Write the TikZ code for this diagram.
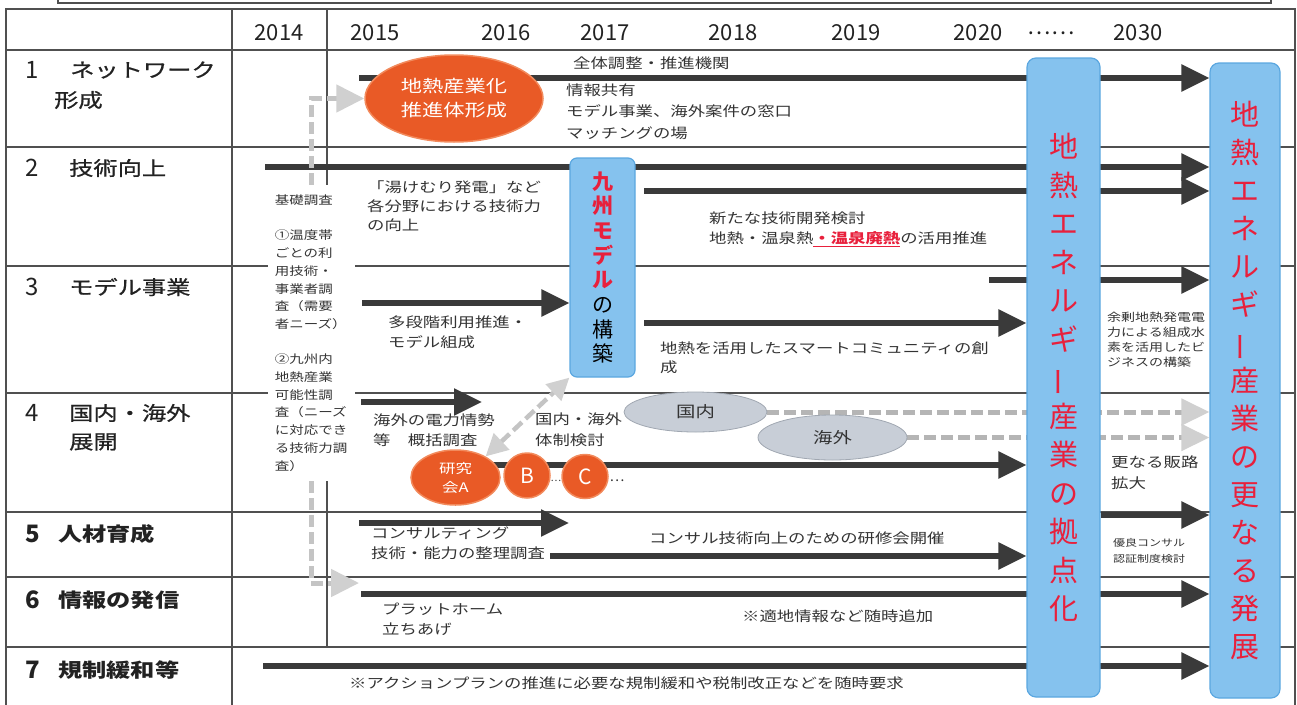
\documentclass[tikz,border=0pt]{standalone}
\usepackage{fontspec}
\usepackage{graphicx}
\usetikzlibrary{arrows.meta,shapes.geometric,backgrounds}
\newfontfamily\jp[FakeStretch=1.25]{Noto Sans CJK JP}
\newfontfamily\jpm[FakeStretch=1.25,FakeBold=0.8]{Noto Sans CJK JP}
\newfontfamily\jpn{Noto Sans CJK JP}
\definecolor{arr}{HTML}{3A3A3A}
\definecolor{gridc}{HTML}{505050}
\definecolor{txtc}{HTML}{333333}
\definecolor{labc}{HTML}{222222}
\definecolor{kred}{HTML}{E8203C}
\definecolor{bluef}{HTML}{85C2EE}
\definecolor{blued}{HTML}{5BA7E0}
\definecolor{orf}{HTML}{E95A26}
\definecolor{ord}{HTML}{F28A5C}
\definecolor{grf}{HTML}{C8CED7}
\definecolor{grd}{HTML}{A0A7B1}
\definecolor{gline}{HTML}{C4C4C4}
\definecolor{glinetwo}{HTML}{B5B5B5}
\definecolor{gtip}{HTML}{D0D0D0}
\newcommand\vbarj{\rotatebox[origin=c]{90}{ー}}
\newcommand\kr[1]{\textcolor{kred}{\bfseries #1}}
\begin{document}
\begin{tikzpicture}[x=1pt,y=-1pt,
  bar/.style={line width=5.5pt, draw=arr, -{Triangle[length=28pt,width=26pt]}},
  gl/.style={line width=5pt, draw=gline, dash pattern=on 12pt off 5pt, -{Triangle[length=28pt,width=27pt,color=gtip]}},
  gltwo/.style={line width=5pt, draw=glinetwo, dash pattern=on 12pt off 5pt, -{Triangle[length=28pt,width=26pt,color=gtip]}},
  gldd/.style={line width=4.5pt, draw=gline, dash pattern=on 12pt off 5pt, {Triangle[length=22pt,width=22pt,color=gtip]}-{Triangle[length=22pt,width=22pt,color=gtip]}},
  gridl/.style={draw=gridc, line width=1.2pt},
  txt/.style={anchor=west, inner sep=0pt, align=left, text=txtc, font=\jp\fontsize{13.9}{20}\selectfont},
  lab/.style={anchor=west, inner sep=0pt, text=labc, font=\jpm\fontsize{19.4}{24}\selectfont},
  labb/.style={anchor=west, inner sep=0pt, text=labc, font=\jp\bfseries\fontsize{19.4}{24}\selectfont},
  num/.style={anchor=west, inner sep=0pt, text=labc, font=\jpn\fontsize{24}{26}\selectfont},
  numb/.style={anchor=west, inner sep=0pt, text=labc, font=\jpn\bfseries\fontsize{24}{26}\selectfont},
  yr/.style={inner sep=0pt, text=labc, font=\jpn\fontsize{22}{24}\selectfont},
  bluebox/.style={draw=blued, fill=bluef, line width=1.2pt, rounded corners=9pt, align=center, inner sep=0pt},
  orell/.style={ellipse, draw=ord, fill=orf, line width=1.5pt, inner sep=0pt, text=white, align=center},
  grell/.style={ellipse, draw=grd, fill=grf, line width=0.8pt, inner sep=0pt, text=txtc},
]
\useasboundingbox (0,0) rectangle (1297,704);

% ---------- nodes ----------
\node[yr] (y14) at (279,33) {2014};
\node[yr] (y15) at (375,33) {2015};
\node[yr] (y16) at (506,33) {2016};
\node[yr] (y17) at (605,33) {2017};
\node[yr] (y18) at (733,33) {2018};
\node[yr] (y19) at (856,33) {2019};
\node[yr] (y20) at (978,33) {2020};
\node[yr] (ydots) at (1051,33) {……};
\node[yr] (y30) at (1138,33) {2030};

\node[num] (l1n) at (25,70) {1};
\node[lab] (l1) at (70,70) {ネットワーク};
\node[lab] (l1b) at (54,100) {形成};
\node[num] (l2n) at (25,168) {2};
\node[lab] (l2) at (69,168) {技術向上};
\node[num] (l3n) at (25,287) {3};
\node[lab] (l3) at (69,287) {モデル事業};
\node[num] (l4n) at (25,413) {4};
\node[lab] (l4) at (69,413) {国内・海外};
\node[lab] (l4b) at (69,442) {展開};
\node[numb] (l5n) at (25,534) {5};
\node[labb] (l5) at (58,534) {人材育成};
\node[numb] (l6n) at (25,600) {6};
\node[labb] (l6) at (58,600) {情報の発信};
\node[numb] (l7n) at (25,670) {7};
\node[labb] (l7) at (58,670) {規制緩和等};

\node[fill=white, minimum width=87pt, minimum height=296pt, inner sep=0pt, align=left, text=txtc, font=\jp\fontsize{11.6}{17.7}\selectfont] (survey) at (311,333)
 {基礎調査\\[17.7pt]①温度帯\\ごとの利\\用技術・\\事業者調\\査（需要\\者ニーズ）\\[17.7pt]②九州内\\地熱産業\\可能性調\\査（ニーズ\\に対応でき\\る技術力調\\査）};

\node[orell, minimum width=178pt, minimum height=87pt, font=\jp\fontsize{17}{24}\selectfont] (net) at (454,98.5) {地熱産業化\\推進体形成};

\node[bluebox, rounded corners=7pt, minimum width=65pt, minimum height=219pt, text=black, font=\jpn\fontsize{21}{24.7}\selectfont] (kyushu) at (602.5,267.5)
 {\kr{九}\\\kr{州}\\\kr{モ}\\\kr{デ}\\\kr{ル}\\の\\構\\築};

\node[bluebox, minimum width=73pt, minimum height=639pt, text=kred, font=\jpn\fontsize{29}{38.5}\selectfont] (hub) at (1063.5,377.5)
 {地\\熱\\エ\\ネ\\ル\\ギ\\\vbarj\\産\\業\\の\\拠\\点\\化};
\node[bluebox, minimum width=70pt, minimum height=635pt, text=kred, font=\jpn\fontsize{29}{38}\selectfont] (dev) at (1245,380.5)
 {地\\熱\\エ\\ネ\\ル\\ギ\\\vbarj\\産\\業\\の\\更\\な\\る\\発\\展};

\node[orell, minimum width=89pt, minimum height=55pt, font=\jp\fontsize{13.2}{19}\selectfont] (ra) at (455.5,477.5) {研究\\会A};
\node[orell, minimum width=46pt, minimum height=45pt, font=\jpn\fontsize{21}{24}\selectfont] (rb) at (527,475.5) {B};
\node[orell, minimum width=46pt, minimum height=44pt, font=\jpn\fontsize{21}{24}\selectfont] (rc) at (585,476.5) {C};
\node[inner sep=0pt, text=txtc, font=\jpn\fontsize{10}{12}\selectfont] (db) at (556,481) {…};
\node[inner sep=0pt, text=txtc, font=\jpn\fontsize{14}{16}\selectfont] (dc) at (617,481) {…};

\node[grell, minimum width=143pt, minimum height=40pt, font=\jp\fontsize{15.5}{20}\selectfont] (dom) at (695.5,412) {国内};
\node[grell, minimum width=149pt, minimum height=45pt, font=\jp\fontsize{15.5}{20}\selectfont] (ovs) at (832.5,437.5) {海外};

% texts
\node[txt] (t1a) at (573,63) {全体調整・推進機関};
\node[txt, font=\jp\fontsize{13.9}{21.5}\selectfont] (t1b) at (566,111.5) {情報共有\\モデル事業、海外案件の窓口\\マッチングの場};
\node[txt, font=\jp\fontsize{13.9}{19}\selectfont] (t2a) at (367,206) {「湯けむり発電」など\\各分野における技術力\\の向上};
\node[txt, font=\jp\fontsize{13.9}{19.5}\selectfont] (t2b) at (709,229.5) {新たな技術開発検討\\地熱・温泉熱\textcolor{kred}{\bfseries\underline{・温泉廃熱}}の活用推進};
\node[txt] (t3a) at (388,332) {多段階利用推進・\\モデル組成};
\node[txt, font=\jp\fontsize{13.9}{19}\selectfont] (t3b) at (660,357.5) {地熱を活用したスマートコミュニティの創\\成};
\node[txt, font=\jp\fontsize{11.2}{15}\selectfont] (t3c) at (1107,339.5) {余剰地熱発電電\\力による組成水\\素を活用したビ\\ジネスの構築};
\node[txt] (t4a) at (373,430) {海外の電力情勢\\等　概括調査};
\node[txt, font=\jp\fontsize{13.9}{21}\selectfont] (t4b) at (535,429.5) {国内・海外\\体制検討};
\node[txt, font=\jp\fontsize{14}{21}\selectfont] (t4c) at (1111,472.5) {更なる販路\\拡大};
\node[txt] (t5a) at (371,543) {コンサルティング\\技術・能力の整理調査};
\node[txt] (t5b) at (649,538) {コンサル技術向上のための研修会開催};
\node[txt, font=\jp\fontsize{9.6}{16}\selectfont] (t5c) at (1113,551) {優良コンサル\\認証制度検討};
\node[txt] (t6a) at (382,619) {プラットホーム\\立ちあげ};
\node[txt] (t6b) at (742,616) {※適地情報など随時追加};
\node[txt] (t7) at (349,683) {※アクションプランの推進に必要な規制緩和や税制改正などを随時要求};

% ---------- coordinates ----------
\coordinate (r1s) at (359,78);
\coordinate (r2a) at (265,167);
\coordinate (r2b) at (644,191);
\coordinate (r3a) at (989,280);
\coordinate (r3b) at (362,303);
\coordinate (r3c) at (644,323);
\coordinate (r4a) at (361,402);
\coordinate (r4b) at (482,402);
\coordinate (r4r) at (470,465);
\coordinate (r5a) at (359,523);
\coordinate (r5ae) at (569,523);
\coordinate (r5b) at (550,556);
\coordinate (r5c) at (1100,515);
\coordinate (r6) at (361,594);
\coordinate (r7) at (263,666);
\coordinate (p6) at (359,583);

% ---------- background: grid and arrows ----------
\begin{scope}[on background layer]
\draw[gridl] (58,-5) -- (58,3) -- (1271,3) -- (1271,-5);
\draw[gridl] (6,9) rectangle (1295,720);
\foreach \yy in {50,147,266,393,512,577,647} \draw[gridl] (6,\yy) -- (1295,\yy);
\draw[gridl] (232,9) -- (232,720);
\draw[gridl] (327,9) -- (327,647);

\draw[bar] (r1s) -- (r1s -| dev.west);
\draw[bar] (r2a) -- (r2a -| dev.west);
\draw[bar] (r2b) -- (r2b -| dev.west);
\draw[bar] (r3a) -- (r3a -| dev.west);
\draw[bar] (r3b) -- (r3b -| kyushu.west);
\draw[bar] (r3c) -- (r3c -| hub.west);
\draw[bar] (r4a) -- (r4b);
\draw[bar] (r4r) -- (r4r -| hub.west);
\draw[bar] (r5a) -- (r5ae);
\draw[bar] (r5b) -- (r5b -| hub.west);
\draw[bar] (r5c -| hub.east) -- (r5c -| dev.west);
\draw[bar] (r6) -- (r6 -| dev.west);
\draw[bar] (r7) -- (r7 -| dev.west);
\draw[gltwo] (dom.east) -- (dom.east -| dev.west);
\draw[gltwo] (ovs.east) -- (ovs.east -| dev.west);
\end{scope}

% ---------- gray dashed connectors ----------
\draw[gl] (survey.north) |- (net.west);
\draw[gl] (survey.south) |- (p6);
\draw[gldd] (ra.35) -- (kyushu.south west);
\end{tikzpicture}
\end{document}
